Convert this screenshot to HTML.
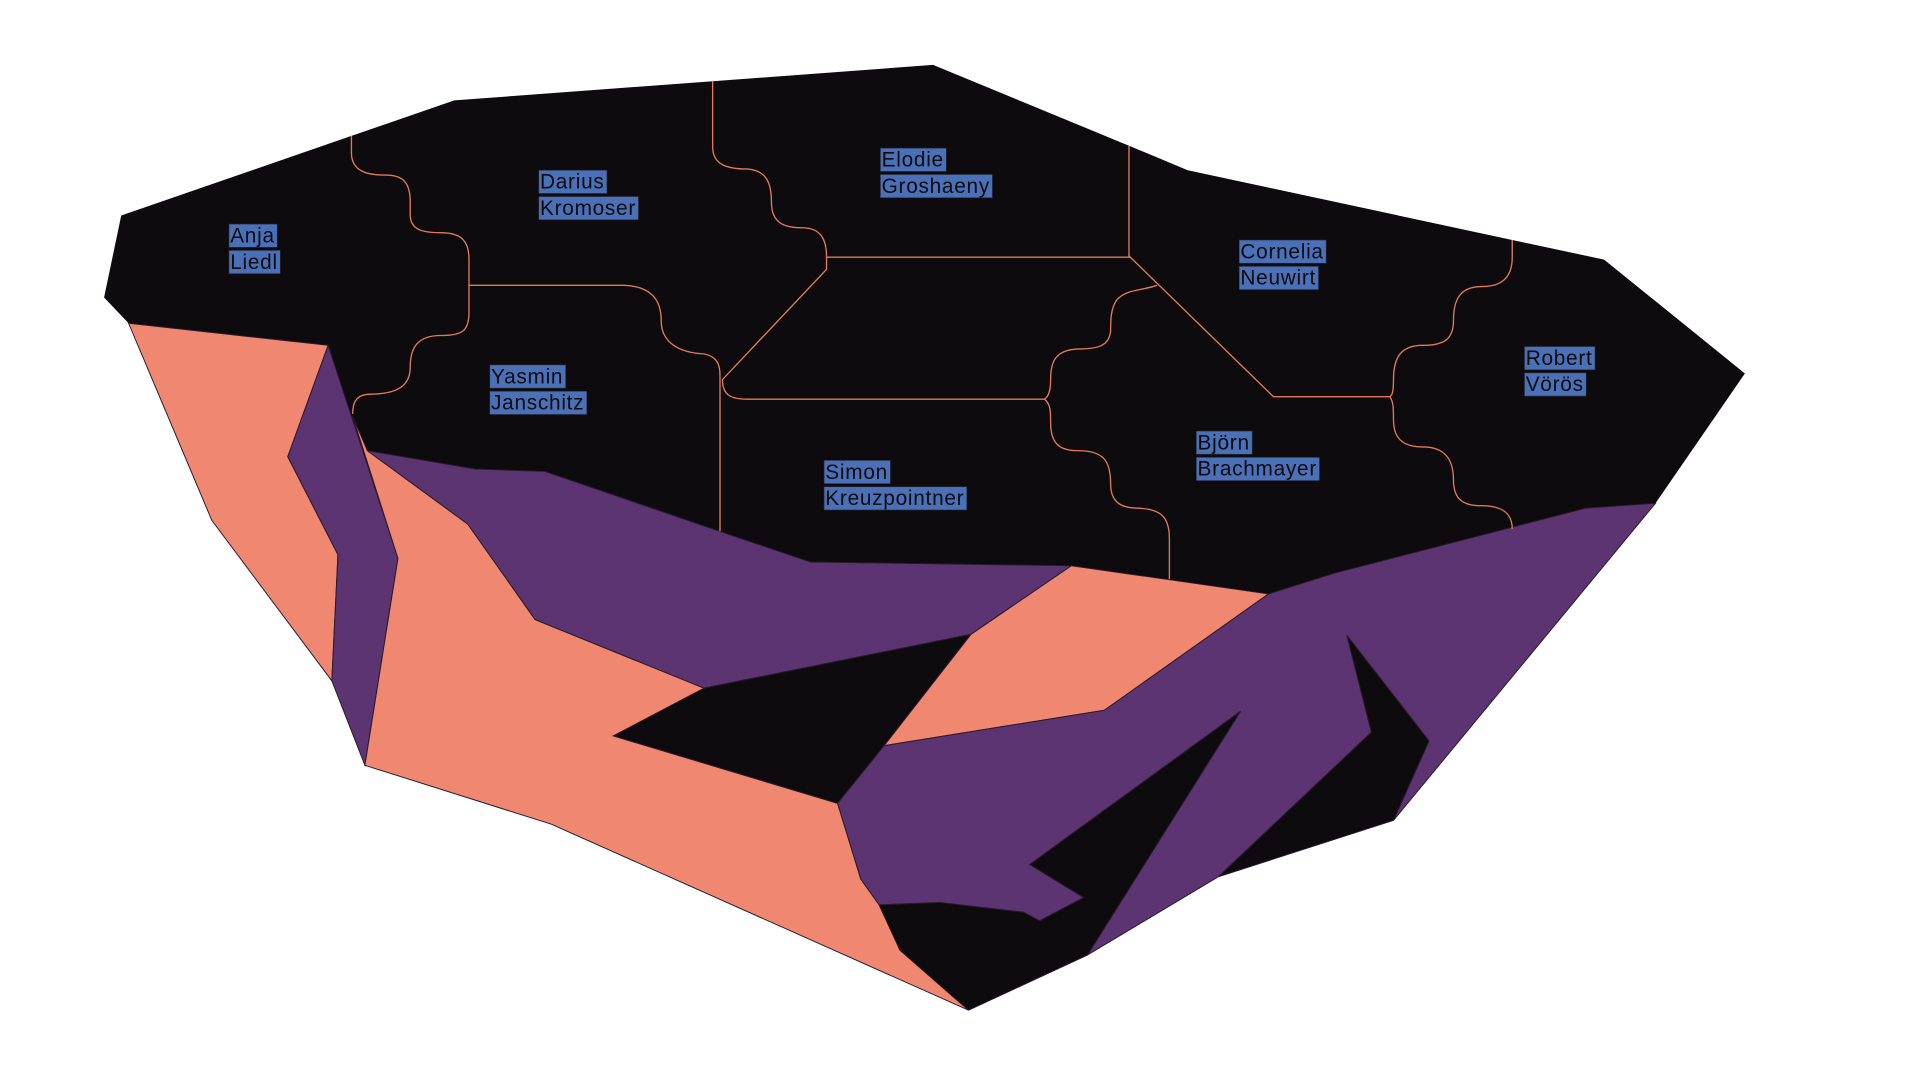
<!DOCTYPE html>
<html><head><meta charset="utf-8"><style>
html,body{margin:0;padding:0;background:#fff;width:1920px;height:1080px;overflow:hidden}
svg{display:block}
text{font-family:"Liberation Sans","DejaVu Sans",sans-serif;font-size:17px;fill:#0d0b0e;letter-spacing:0.6px}
</style></head><body>
<svg id="map" width="1920" height="1080" viewBox="0 0 1568 882">
<g>
<polygon fill="#0d0b0e" points="99,176 287,111 371,82 762,53 922,119 970,139 1235,196 1310,212 1425,305 1352,411 1138,670 995,716 888,780 791,825 450,673 298,625 271,556 173,425 105,264 85,243"/>
</g>
<g stroke="#2a1a2a" stroke-width="0.8">
<polygon fill="#f08770" points="105,264 268,282 235,373 276,453 271,556 173,425"/>
<polygon fill="#5c3472" points="268,282 325,456 298,625 271,556 276,453 235,373"/>
<polygon fill="#f08770" points="300,368 382,428 437,506 575,562 501,601 684,656 703,718 718,739 735,776 791,825 450,673 298,625 325,456 288,340"/>
<polygon fill="#5c3472" points="300,368 388,383 445,385 588,434 662,459 875,462 793,518 575,562 437,506 382,428"/>
<polygon fill="#0d0b0e" points="575,562 793,518 722,609 684,656 501,601"/>
<polygon fill="#f08770" points="875,462 1036,485 902,580 722,609 793,518"/>
<polygon fill="#5c3472" points="1036,485 1090,468 1295,415 1352,411 1138,670 1167,605 1100,519 1120,598 995,716 888,780 1013,581 841,706 885,733 849,752 836,745 767,737 718,739 703,718 684,656 722,609 902,580"/>
<polygon fill="#0d0b0e" points="718,739 767,737 836,745 849,752 885,733 841,706 1013,581 888,780 791,825 735,776"/>
<polygon fill="#0d0b0e" points="1100,519 1167,605 1138,670 995,716 1120,598"/>
</g>
<g fill="none" stroke="#e07b5a" stroke-width="1.1">
<path d="M287,111 V125 C287,140 300,143 315,143 C330,143 335,150 335,165 V175 C335,188 345,190 360,190 C378,190 383,198 383,212 V233 H510 C532,234 540,245 540,262 C540,280 555,288 575,289 C588,292 588,300 588,310 V434"/>
<path d="M383,233 V255 C383,270 378,274 360,274 C340,274 335,285 335,300 C335,318 320,322 300,322 C290,323 288,330 288,338"/>
<path d="M582,66 V120 C582,135 595,138 610,138 C625,139 630,148 630,165 C630,182 640,186 655,186 C670,186 675,195 675,210 V220 L590,310 C590,322 596,326 610,326 H853"/>
<path d="M675,210 H922 V119"/>
<path d="M922,209 L1040,324 H1135"/>
<path d="M945,233 C930,238 920,236 912,245 C907,252 907,262 907,270 C906,282 898,285 880,285 C862,286 858,295 858,310 C858,320 856,324 853,326 C858,330 858,336 858,345 C858,362 865,368 880,368 C900,368 907,375 907,395 C907,410 915,415 930,415 C948,416 955,422 955,440 V473"/>
<path d="M1235,196 V210 C1235,228 1225,234 1210,234 C1192,234 1187,245 1187,262 C1187,278 1178,282 1162,282 C1144,282 1138,292 1138,310 C1138,320 1137,323 1135,324 C1138,328 1138,334 1138,343 C1138,360 1148,365 1162,365 C1180,365 1187,375 1187,392 C1187,408 1195,413 1210,413 C1228,413 1235,420 1235,432"/>
</g>
<g id="labels"></g>
</svg>
<script>
const names = ["Anja|Liedl","Darius|Kromoser","Elodie|Groshaeny","Cornelia|Neuwirt","Robert|Vörös","Yasmin|Janschitz","Simon|Kreuzpointner","Björn|Brachmayer"];
const labelX = [187,440,719,1012,1245,400,673,977];
const labelY = [183,139,121,196,283,298,376,352];
const g = document.getElementById('labels');
const NS = 'http://www.w3.org/2000/svg';
names.forEach((n,i)=>{
  const lg = document.createElementNS(NS,'g');
  
  
  g.appendChild(lg);
  n.split('|').forEach((line,j)=>{
    const r = document.createElementNS(NS,'rect');
    
    
    const t = document.createElementNS(NS,'text');
    
    
    const y = labelY[i] + j*21.5;
    t.setAttribute('x', labelX[i]+1);
    t.setAttribute('y', y+15);
    t.textContent = line;
    lg.appendChild(r); lg.appendChild(t);
    const w = t.getComputedTextLength();
    r.setAttribute('x', labelX[i]);
    r.setAttribute('y', y);
    r.setAttribute('width', w+3);
    r.setAttribute('height', 19);
    r.setAttribute('fill','#4a70b8');
    r.setAttribute('stroke','#2b2b3a');
    r.setAttribute('stroke-width','0.5');
  });
});
</script>
</body></html>
